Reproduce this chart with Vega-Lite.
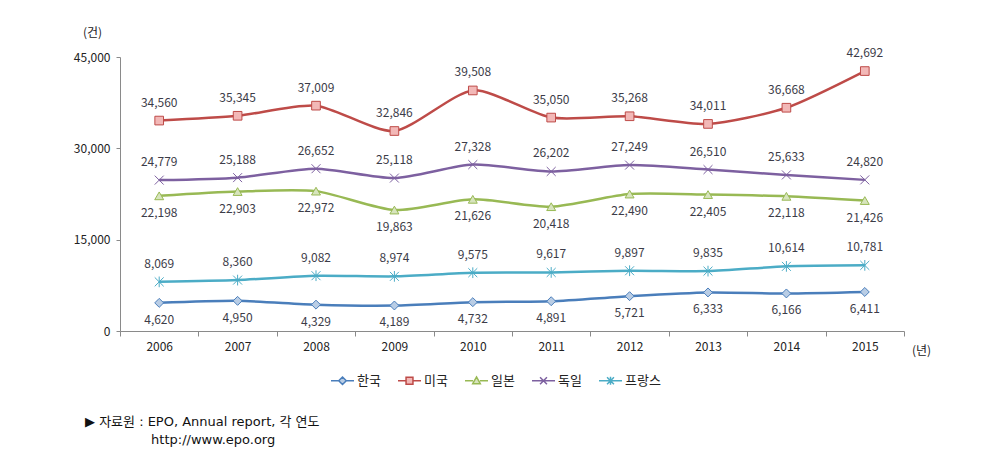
{
  "$schema": "https://vega.github.io/schema/vega-lite/v6.json",
  "autosize": {"type": "none"},
  "width": 784,
  "height": 274,
  "padding": {"left": 120, "top": 57, "right": 100, "bottom": 135},
  "background": "white",
  "config": {
    "view": {"stroke": null},
    "font": "Noto Sans CJK KR",
    "axis": {"labelFont": "Noto Sans CJK KR", "titleFont": "Noto Sans CJK KR"},
    "legend": {
      "orient": "none",
      "direction": "horizontal",
      "legendX": 210,
      "legendY": 311,
      "symbolSize": 529,
      "symbolStrokeWidth": 1.5,
      "labelFontSize": 13,
      "labelColor": "#222222",
      "labelOffset": 2,
      "columnPadding": 14
    }
  },
  "title": {
    "text": ["▶ 자료원 : EPO, Annual report, 각 연도", "\u200b\u00a0\u00a0\u00a0\u00a0\u00a0\u00a0\u00a0\u00a0\u00a0\u00a0\u00a0\u00a0\u00a0\u00a0\u00a0\u00a0http://www.epo.org"],
    "orient": "bottom",
    "anchor": "start",
    "frame": "group",
    "dx": -35,
    "offset": 28,
    "fontSize": 13,
    "fontWeight": "normal",
    "font": "DejaVu Sans, Noto Sans CJK KR",
    "color": "#111111",
    "lineHeight": 18
  },
  "data": {
    "values": [
      {"year": "2006", "country": "한국", "value": 4620},
      {"year": "2007", "country": "한국", "value": 4950},
      {"year": "2008", "country": "한국", "value": 4329},
      {"year": "2009", "country": "한국", "value": 4189},
      {"year": "2010", "country": "한국", "value": 4732},
      {"year": "2011", "country": "한국", "value": 4891},
      {"year": "2012", "country": "한국", "value": 5721},
      {"year": "2013", "country": "한국", "value": 6333},
      {"year": "2014", "country": "한국", "value": 6166},
      {"year": "2015", "country": "한국", "value": 6411},
      {"year": "2006", "country": "미국", "value": 34560},
      {"year": "2007", "country": "미국", "value": 35345},
      {"year": "2008", "country": "미국", "value": 37009},
      {"year": "2009", "country": "미국", "value": 32846},
      {"year": "2010", "country": "미국", "value": 39508},
      {"year": "2011", "country": "미국", "value": 35050},
      {"year": "2012", "country": "미국", "value": 35268},
      {"year": "2013", "country": "미국", "value": 34011},
      {"year": "2014", "country": "미국", "value": 36668},
      {"year": "2015", "country": "미국", "value": 42692},
      {"year": "2006", "country": "일본", "value": 22198},
      {"year": "2007", "country": "일본", "value": 22903},
      {"year": "2008", "country": "일본", "value": 22972},
      {"year": "2009", "country": "일본", "value": 19863},
      {"year": "2010", "country": "일본", "value": 21626},
      {"year": "2011", "country": "일본", "value": 20418},
      {"year": "2012", "country": "일본", "value": 22490},
      {"year": "2013", "country": "일본", "value": 22405},
      {"year": "2014", "country": "일본", "value": 22118},
      {"year": "2015", "country": "일본", "value": 21426},
      {"year": "2006", "country": "독일", "value": 24779},
      {"year": "2007", "country": "독일", "value": 25188},
      {"year": "2008", "country": "독일", "value": 26652},
      {"year": "2009", "country": "독일", "value": 25118},
      {"year": "2010", "country": "독일", "value": 27328},
      {"year": "2011", "country": "독일", "value": 26202},
      {"year": "2012", "country": "독일", "value": 27249},
      {"year": "2013", "country": "독일", "value": 26510},
      {"year": "2014", "country": "독일", "value": 25633},
      {"year": "2015", "country": "독일", "value": 24820},
      {"year": "2006", "country": "프랑스", "value": 8069},
      {"year": "2007", "country": "프랑스", "value": 8360},
      {"year": "2008", "country": "프랑스", "value": 9082},
      {"year": "2009", "country": "프랑스", "value": 8974},
      {"year": "2010", "country": "프랑스", "value": 9575},
      {"year": "2011", "country": "프랑스", "value": 9617},
      {"year": "2012", "country": "프랑스", "value": 9897},
      {"year": "2013", "country": "프랑스", "value": 9835},
      {"year": "2014", "country": "프랑스", "value": 10614},
      {"year": "2015", "country": "프랑스", "value": 10781}
    ]
  },
  "encoding": {
    "x": {
      "field": "year",
      "type": "ordinal",
      "scale": {"type": "band", "paddingInner": 0, "paddingOuter": 0},
      "axis": {
        "title": "(년)",
        "titleAngle": 0,
        "titleX": 801,
        "titleY": 19,
        "titleAlign": "center",
        "titleBaseline": "middle",
        "titleFontSize": 12,
        "titleFontWeight": "normal",
        "titleColor": "#222222",
        "labelAngle": 0,
        "labelFontSize": 12,
        "labelColor": "#222222",
        "labelPadding": 5,
        "tickBand": "extent",
        "tickSize": 5,
        "tickColor": "#8a8a8a",
        "domainColor": "#8a8a8a",
        "grid": false
      }
    },
    "y": {
      "field": "value",
      "type": "quantitative",
      "scale": {"domain": [0, 45000], "nice": false},
      "axis": {
        "title": "(건)",
        "titleAngle": 0,
        "titleX": -28,
        "titleY": -25,
        "titleAlign": "center",
        "titleBaseline": "middle",
        "titleFontSize": 12,
        "titleFontWeight": "normal",
        "titleColor": "#222222",
        "values": [0, 15000, 30000, 45000],
        "format": ",d",
        "labelFontSize": 12,
        "labelColor": "#222222",
        "labelPadding": 6,
        "tickSize": 4,
        "tickColor": "#8a8a8a",
        "domainColor": "#8a8a8a",
        "grid": false
      }
    }
  },
  "layer": [
    {
      "mark": {"type": "line", "strokeWidth": 2.5, "interpolate": "cardinal", "tension": 0.3},
      "encoding": {
        "stroke": {
          "field": "country",
          "type": "nominal",
          "sort": ["한국", "미국", "일본", "독일", "프랑스"],
          "scale": {"domain": ["한국", "미국", "일본", "독일", "프랑스"], "range": ["#4a7ebb", "#be4b48", "#98b954", "#7d60a0", "#4bacc6"]},
          "legend": {"title": null}
        }
      }
    },
    {
      "mark": {"type": "point", "filled": true, "strokeWidth": 1, "opacity": 1, "size": 0},
      "encoding": {
        "shape": {
          "field": "country",
          "type": "nominal",
          "scale": {"domain": ["한국", "미국", "일본", "독일", "프랑스"], "range": ["M-1,0H-0.33M0.33,0H1M0,-0.33L0.33,0L0,0.33L-0.33,0Z", "M-1,0H-0.3M0.3,0H1M-0.3,-0.3H0.3V0.3H-0.3Z", "M-1,0H-0.3M0.3,0H1M0,-0.33L0.33,0.25H-0.33Z", "M-1,0H1M-0.3,-0.3L0.3,0.3M-0.3,0.3L0.3,-0.3", "M-1,0H1M-0.3,-0.3L0.3,0.3M-0.3,0.3L0.3,-0.3M0,-0.35V0.35"]},
          "legend": {"title": null}
        },
        "fill": {
          "field": "country",
          "type": "nominal",
          "scale": {"domain": ["한국", "미국", "일본", "독일", "프랑스"], "range": ["#b9cde5", "#f2b8b7", "#d7e4bd", "#b3a2c7", "#93cddd"]},
          "legend": {"title": null}
        },
        "stroke": {"field": "country", "type": "nominal"}
      }
    },
    {
      "transform": [{"filter": "datum.country === '한국'"}],
      "mark": {"type": "point", "shape": "diamond", "filled": true, "fill": "#b9cde5", "stroke": "#4a7ebb", "strokeWidth": 1, "size": 80, "opacity": 1}
    },
    {
      "transform": [{"filter": "datum.country === '미국'"}],
      "mark": {"type": "point", "shape": "square", "filled": true, "fill": "#f2b8b7", "stroke": "#be4b48", "strokeWidth": 1, "size": 75, "opacity": 1}
    },
    {
      "transform": [{"filter": "datum.country === '일본'"}],
      "mark": {"type": "point", "shape": "triangle-up", "filled": true, "fill": "#d7e4bd", "stroke": "#98b954", "strokeWidth": 1, "size": 80, "opacity": 1}
    },
    {
      "transform": [{"filter": "datum.country === '독일'"}],
      "mark": {"type": "point", "shape": "M-1,-1L1,1M-1,1L1,-1", "filled": false, "stroke": "#7d60a0", "strokeWidth": 1, "size": 80, "opacity": 1}
    },
    {
      "transform": [{"filter": "datum.country === '프랑스'"}],
      "mark": {"type": "point", "shape": "M-1,-1L1,1M-1,1L1,-1M0,-1.2V1.2", "filled": false, "stroke": "#4bacc6", "strokeWidth": 1, "size": 80, "opacity": 1}
    },
    {
      "transform": [{"filter": "datum.country === '미국' || datum.country === '독일' || datum.country === '프랑스'"}],
      "mark": {"type": "text", "dy": -18, "fontSize": 12, "color": "#3c3c48", "baseline": "middle"},
      "encoding": {
        "text": {"field": "value", "type": "quantitative", "format": ",d"}
      }
    },
    {
      "transform": [{"filter": "datum.country === '한국' || datum.country === '일본'"}],
      "mark": {"type": "text", "dy": 17, "fontSize": 12, "color": "#3c3c48", "baseline": "middle"},
      "encoding": {
        "text": {"field": "value", "type": "quantitative", "format": ",d"}
      }
    }
  ]
}
